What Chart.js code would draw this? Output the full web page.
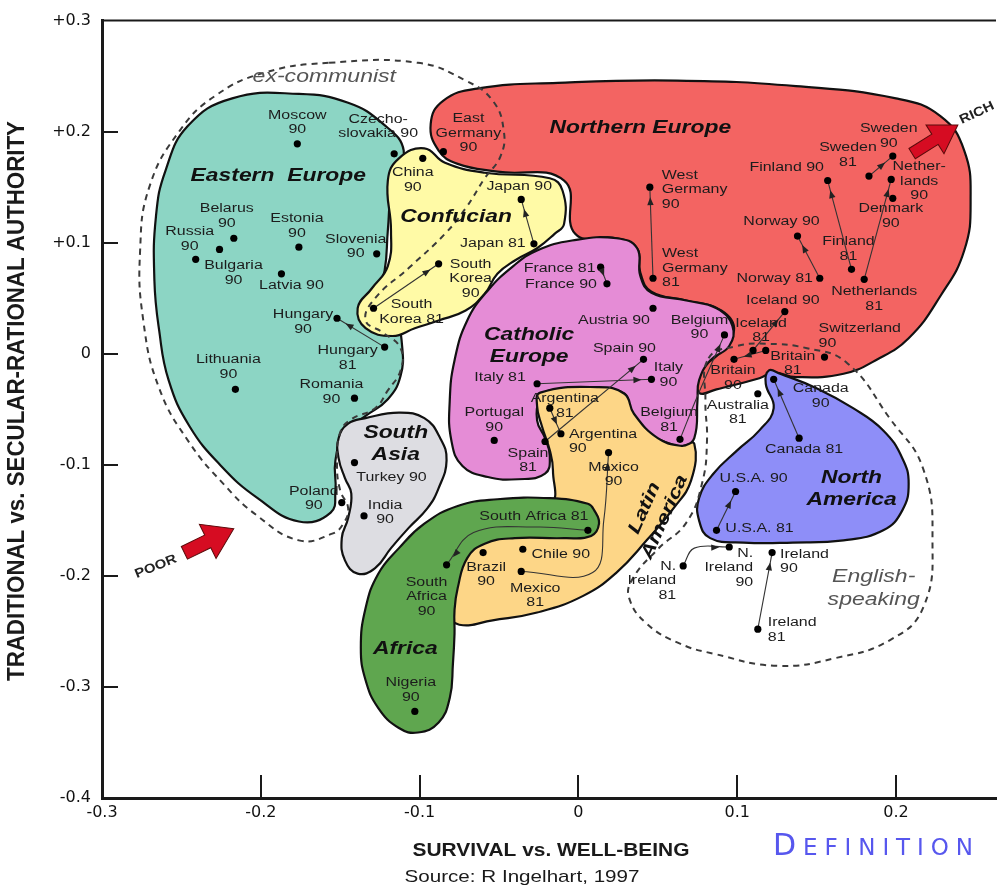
<!DOCTYPE html>
<html>
<head>
<meta charset="utf-8">
<script src="https://cdn.jsdelivr.net/npm/chart.js@4.4.1/dist/chart.umd.min.js"></script>
<style>
  html, body { margin: 0; padding: 0; background: #fff; }
  canvas { display: block; }
</style>
</head>
<body>
<canvas id="chart" width="1000" height="888"></canvas>
<script>
// ---- values ----
const countries = ['Moscow','Czechoslovakia','Belarus','Estonia','Russia','Bulgaria','Latvia','Slovenia','Hungary','Hungary','Romania','Lithuania','Poland',
  'China','Japan','Japan','South Korea','South Korea',
  'East Germany','West Germany','West Germany','Finland','Sweden','Sweden','Netherlands','Denmark','Norway','Norway','Finland','Netherlands','Iceland','Iceland','Switzerland','Britain','Britain',
  'Australia','Canada','Canada','U.S.A.','U.S.A.','N. Ireland','N. Ireland','Ireland','Ireland',
  'France','France','Austria','Belgium','Spain','Italy','Italy','Portugal','Spain','Belgium',
  'Argentina','Argentina','Mexico','Brazil','Chile','Mexico',
  'South Africa','South Africa','Nigeria','Turkey','India'];
const years = [90,90,90,90,90,90,90,90,90,81,90,90,90,
  90,90,81,90,81,
  90,90,81,90,90,81,90,90,90,81,81,81,90,81,90,90,81,
  81,90,81,90,81,90,81,90,81,
  81,90,90,90,90,90,81,90,81,81,
  81,90,90,90,90,81,
  81,90,90,90,90];
const survival = [-0.177,-0.116,-0.217,-0.176,-0.241,-0.226,-0.187,-0.127,-0.152,-0.122,-0.141,-0.216,-0.149,
  -0.098,-0.036,-0.028,-0.088,-0.129,
  -0.085,0.045,0.047,0.157,0.198,0.183,0.197,0.198,0.138,0.152,0.172,0.180,0.130,0.110,0.155,0.098,0.118,
  0.113,0.123,0.139,0.099,0.087,0.095,0.066,0.122,0.113,
  0.014,0.018,0.047,0.092,0.041,0.046,-0.026,-0.053,-0.021,0.064,
  -0.018,-0.011,0.019,-0.060,-0.035,-0.036,
  0.006,-0.083,-0.103,-0.141,-0.135];
const traditional = [0.189,0.180,0.104,0.096,0.085,0.094,0.072,0.090,0.032,0.006,-0.040,-0.032,-0.134,
  0.176,0.139,0.099,0.081,0.041,
  0.182,0.150,0.068,0.156,0.178,0.160,0.157,0.140,0.106,0.068,0.076,0.067,0.038,0.003,-0.003,-0.005,0.003,
  -0.036,-0.023,-0.076,-0.124,-0.159,-0.174,-0.191,-0.179,-0.248,
  0.078,0.063,0.041,0.017,-0.005,-0.023,-0.027,-0.078,-0.079,-0.077,
  -0.049,-0.072,-0.089,-0.179,-0.176,-0.196,
  -0.159,-0.190,-0.322,-0.098,-0.146];
const labelText = ['Moscow|90','Czecho-|slovakia 90','Belarus|90','Estonia|90','Russia|90','Bulgaria|90','Latvia 90','Slovenia|90','Hungary|90','Hungary|81','Romania|90','Lithuania|90','Poland|90',
  'China|90','Japan 90','Japan 81','South|Korea|90','South|Korea 81',
  'East|Germany|90','West|Germany|90','West|Germany|81','Finland 90','Sweden|90','Sweden|81','Nether-|lands|90','Denmark|90','Norway 90','Norway 81','Finland|81','Netherlands|81','Iceland 90','Iceland|81','Switzerland|90','Britain|90','Britain|81',
  'Australia|81','Canada|90','Canada 81','U.S.A. 90','U.S.A. 81','N.|Ireland|90','N.|Ireland|81','Ireland|90','Ireland|81',
  'France 81','France 90','Austria 90','Belgium|90','Spain 90','Italy|90','Italy 81','Portugal|90','Spain|81','Belgium|81',
  'Argentina|81','Argentina|90','Mexico|90','Brazil|90','Chile 90','Mexico|81',
  'South Africa 81','South|Africa|90','Nigeria|90','Turkey 90','India|90'];

// 1981 -> 1990 moves (optional bend points)
const moves = [
  ['Hungary 81','Hungary 90'], ['South Korea 81','South Korea 90'], ['Japan 81','Japan 90'],
  ['West Germany 81','West Germany 90'], ['Finland 81','Finland 90'], ['Norway 81','Norway 90'],
  ['Sweden 81','Sweden 90'], ['Netherlands 81','Netherlands 90'], ['Iceland 81','Iceland 90'],
  ['Britain 81','Britain 90'], ['France 81','France 90'], ['Italy 81','Italy 90'], ['Spain 81','Spain 90'],
  ['Belgium 81','Belgium 90', [[0.075,-0.038]]], ['Argentina 81','Argentina 90'],
  ['Mexico 81','Mexico 90', [[0.009,-0.197],[0.016,-0.150]]],
  ['South Africa 81','South Africa 90', [[-0.026,-0.156],[-0.066,-0.161]]],
  ['Canada 81','Canada 90'], ['U.S.A. 81','U.S.A. 90'], ['Ireland 81','Ireland 90'],
  ['N. Ireland 81','N. Ireland 90', [[0.073,-0.175]]]
];

// cultural zones, outlines in axis units
const easternEurope = [[-0.218,0.230],[-0.176,0.234],[-0.145,0.226],[-0.123,0.207],[-0.110,0.183],[-0.117,0.156],[-0.120,0.111],[-0.122,0.075],[-0.127,0.052],[-0.115,0.030],[-0.111,0.007],[-0.112,-0.020],[-0.120,-0.041],[-0.134,-0.056],[-0.147,-0.071],[-0.153,-0.096],[-0.153,-0.123],[-0.156,-0.143],[-0.176,-0.151],[-0.202,-0.130],[-0.225,-0.101],[-0.245,-0.065],[-0.258,-0.024],[-0.264,0.021],[-0.267,0.066],[-0.266,0.124],[-0.260,0.165],[-0.246,0.205]];
const northernEurope = [[-0.088,0.183],[-0.093,0.207],[-0.085,0.228],[-0.063,0.239],[-0.013,0.244],[0.062,0.246],[0.137,0.241],[0.200,0.230],[0.228,0.214],[0.243,0.183],[0.247,0.138],[0.243,0.093],[0.228,0.052],[0.208,0.014],[0.187,-0.006],[0.167,-0.018],[0.137,-0.021],[0.123,-0.017],[0.114,-0.022],[0.087,-0.032],[0.076,-0.035],[0.076,-0.015],[0.087,-0.002],[0.098,0.021],[0.090,0.039],[0.068,0.048],[0.046,0.056],[0.039,0.073],[0.037,0.095],[0.024,0.104],[-0.002,0.108],[-0.009,0.156],[-0.051,0.164],[-0.076,0.171]];
const confucian = [[-0.097,0.185],[-0.084,0.172],[-0.059,0.163],[-0.018,0.158],[-0.010,0.147],[-0.009,0.117],[-0.015,0.108],[-0.026,0.095],[-0.040,0.084],[-0.051,0.072],[-0.059,0.054],[-0.071,0.039],[-0.088,0.030],[-0.103,0.023],[-0.117,0.016],[-0.134,0.023],[-0.139,0.041],[-0.130,0.059],[-0.120,0.079],[-0.118,0.111],[-0.120,0.156],[-0.113,0.176]];
const catholicEurope = [[-0.004,0.102],[0.024,0.104],[0.037,0.095],[0.039,0.070],[0.046,0.055],[0.068,0.048],[0.087,0.041],[0.097,0.025],[0.095,0.007],[0.083,-0.006],[0.076,-0.024],[0.075,-0.042],[0.073,-0.076],[0.066,-0.083],[0.054,-0.079],[0.041,-0.069],[0.033,-0.050],[0.029,-0.036],[0.016,-0.032],[-0.018,-0.033],[-0.024,-0.040],[-0.026,-0.060],[-0.021,-0.076],[-0.018,-0.092],[-0.021,-0.108],[-0.038,-0.113],[-0.057,-0.111],[-0.073,-0.101],[-0.080,-0.078],[-0.081,-0.042],[-0.078,-0.006],[-0.070,0.030],[-0.057,0.057],[-0.041,0.079],[-0.026,0.093]];
const latinAmerica = [[-0.024,-0.035],[0.012,-0.030],[0.029,-0.036],[0.035,-0.054],[0.050,-0.076],[0.065,-0.083],[0.073,-0.081],[0.071,-0.114],[0.060,-0.139],[0.043,-0.168],[0.024,-0.197],[0.003,-0.218],[-0.026,-0.233],[-0.054,-0.240],[-0.075,-0.244],[-0.082,-0.233],[-0.081,-0.204],[-0.073,-0.176],[-0.057,-0.157],[-0.018,-0.137],[-0.016,-0.105],[-0.018,-0.087],[-0.023,-0.065],[-0.026,-0.047]];
const africa = [[-0.018,-0.130],[-0.051,-0.131],[-0.076,-0.137],[-0.097,-0.153],[-0.113,-0.175],[-0.126,-0.198],[-0.134,-0.229],[-0.137,-0.265],[-0.134,-0.294],[-0.126,-0.319],[-0.113,-0.337],[-0.101,-0.341],[-0.088,-0.332],[-0.081,-0.310],[-0.079,-0.279],[-0.078,-0.252],[-0.078,-0.231],[-0.076,-0.211],[-0.070,-0.184],[-0.059,-0.171],[-0.040,-0.166],[-0.009,-0.166],[0.008,-0.164],[0.013,-0.153],[0.010,-0.141],[0.006,-0.135]];
const southAsia = [[-0.134,-0.058],[-0.113,-0.053],[-0.097,-0.058],[-0.087,-0.076],[-0.083,-0.096],[-0.088,-0.121],[-0.095,-0.139],[-0.107,-0.157],[-0.118,-0.175],[-0.128,-0.193],[-0.139,-0.198],[-0.147,-0.186],[-0.149,-0.166],[-0.145,-0.148],[-0.143,-0.126],[-0.147,-0.112],[-0.151,-0.094],[-0.151,-0.076],[-0.145,-0.063]];
const northAmerica = [[0.120,-0.015],[0.127,-0.018],[0.150,-0.031],[0.173,-0.049],[0.192,-0.069],[0.204,-0.094],[0.208,-0.117],[0.204,-0.141],[0.192,-0.159],[0.167,-0.168],[0.135,-0.170],[0.104,-0.170],[0.083,-0.166],[0.076,-0.150],[0.076,-0.130],[0.085,-0.108],[0.100,-0.087],[0.114,-0.069],[0.123,-0.049],[0.118,-0.027]];
const exCommunist = [[-0.157,0.262],[-0.101,0.262],[-0.071,0.246],[-0.054,0.228],[-0.047,0.201],[-0.049,0.178],[-0.059,0.158],[-0.071,0.131],[-0.084,0.108],[-0.107,0.077],[-0.128,0.050],[-0.134,0.030],[-0.123,0.019],[-0.112,0.005],[-0.112,-0.015],[-0.120,-0.033],[-0.128,-0.049],[-0.143,-0.059],[-0.150,-0.071],[-0.152,-0.099],[-0.150,-0.123],[-0.145,-0.139],[-0.148,-0.153],[-0.155,-0.162],[-0.176,-0.168],[-0.203,-0.145],[-0.223,-0.118],[-0.245,-0.080],[-0.264,-0.031],[-0.274,0.030],[-0.276,0.093],[-0.270,0.151],[-0.251,0.201],[-0.229,0.232],[-0.198,0.253]];
const englishSpeaking = [[0.082,-0.004],[0.100,0.007],[0.118,0.009],[0.144,0.005],[0.169,-0.008],[0.196,-0.058],[0.217,-0.103],[0.223,-0.168],[0.217,-0.229],[0.196,-0.258],[0.162,-0.274],[0.125,-0.281],[0.085,-0.270],[0.064,-0.261],[0.043,-0.243],[0.032,-0.220],[0.034,-0.203],[0.050,-0.176],[0.068,-0.152],[0.078,-0.116],[0.081,-0.078],[0.080,-0.042]];

const zoneNames = ['Eastern  Europe','Northern Europe','Confucian','Catholic|Europe','Latin|America','Africa','South|Asia','North|America'];
const zoneShapes = [easternEurope, northernEurope, confucian, catholicEurope, latinAmerica, africa, southAsia, northAmerica];
const zoneLabelX = [-0.189, 0.039, -0.077, -0.031, 0.048, -0.109, -0.115, 0.172];
const zoneLabelY = [0.160, 0.203, 0.123, 0.007, -0.143, -0.266, -0.081, -0.122];
const groupNames = ['ex-communist', 'English-|speaking'];
const groupShapes = [exCommunist, englishSpeaking];
const groupLabelX = [-0.160, 0.186];
const groupLabelY = [0.249, -0.211];

const xTicks = [-0.3, -0.2, -0.1, 0, 0.1, 0.2];
const xTickLabels = ['-0.3', '-0.2', '-0.1', '0', '0.1', '0.2'];
const yTicks = [-0.4, -0.3, -0.2, -0.1, 0, 0.1, 0.2, 0.3];
const yTickLabels = ['-0.4', '-0.3', '-0.2', '-0.1', '0', '+0.1', '+0.2', '+0.3'];

// ---- styling ----
const zoneColors = ['#8cd5c4', '#f36462', '#fffaa6', '#e58cd6', '#fdd687', '#5fa64f', '#dddde2', '#8e8ef8'];
// label placement: offset from the dot in px, alignment
const labelPos = [[0,-21,'c'],[-16,-27,'c'],[-7,-22,'c'],[-2,-21,'c'],[-6,-20,'c'],[14,24,'c'],[10,12,'c'],[-21,-7,'c'],[-34,4,'c'],[-37,11,'c'],[-23,-6,'c'],[-7,-22,'c'],[-28,-4,'c'],
  [-10,22,'c'],[-2,-13,'c'],[-41,0,'c'],[32,15,'c'],[38,4,'c'],
  [25,-18,'c'],[12,3,'l'],[9,-10,'l'],[-41,-13,'c'],[-4,-20,'c'],[-21,-21,'c'],[28,2,'c'],[-2,18,'c'],[-16,-14,'c'],[-45,0,'c'],[-3,-20,'c'],[10,20,'c'],[-2,-11,'c'],[8,-20,'c'],[-6,-21,'l'],[-1,19,'c'],[27,13,'c'],
  [-20,19,'c'],[47,17,'c'],[5,12,'c'],[18,-13,'c'],[43,-2,'c'],[24,21,'r'],[-7,15,'r'],[8,9,'l'],[10,1,'l'],
  [-41,2,'c'],[-46,1,'c'],[-39,12,'c'],[-25,-7,'c'],[-19,-11,'c'],[17,-4,'c'],[-37,-6,'c'],[0,-20,'c'],[-17,19,'c'],[-11,-19,'c'],
  [15,-2,'c'],[8,8,'l'],[5,22,'c'],[3,22,'c'],[38,5,'c'],[14,24,'c'],
  [-54,-14,'c'],[-20,32,'c'],[-4,-21,'c'],[37,15,'c'],[21,-3,'c']];

const keyOf = i => countries[i] + ' ' + years[i];
const idx = key => countries.findIndex((c, i) => keyOf(i) === key);
const pt = i => ({x: survival[i], y: traditional[i]});
const SANS = '"Liberation Sans", Arial, sans-serif';

const datasets = [];
zoneShapes.forEach((shape, k) => {
  datasets.push({
    type: 'line', closed: true, order: 30 - k,
    data: shape.map(p => ({x: p[0], y: p[1]})),
    fill: 'shape', backgroundColor: zoneColors[k],
    borderColor: '#111', borderWidth: 2.2, tension: 0.45, pointRadius: 0
  });
});
groupShapes.forEach(shape => {
  datasets.push({
    type: 'line', closed: true, order: 10,
    data: shape.map(p => ({x: p[0], y: p[1]})),
    fill: false, borderColor: '#3a3a3a', borderWidth: 2, borderDash: [6, 5],
    tension: 0.45, pointRadius: 0
  });
});
moves.forEach(m => {
  const a = idx(m[0]), b = idx(m[1]);
  const via = (m[2] || []).map(p => ({x: p[0], y: p[1]}));
  datasets.push({
    type: 'line', order: 5,
    data: [pt(a), ...via, pt(b)],
    fill: false, borderColor: '#333', borderWidth: 1.1,
    tension: via.length ? 0.4 : 0, pointRadius: 0
  });
});
datasets.push({
  type: 'scatter', order: 0,
  data: survival.map((x, i) => pt(i)),
  pointRadius: 3.6, pointBackgroundColor: '#000', pointBorderWidth: 0
});

function textBlock(ctx, text, x, y, o) {
  const lines = text.split('|');
  const lh = o.lh || 14;
  ctx.save();
  ctx.translate(x, y);
  if (o.rot) ctx.rotate(o.rot);
  ctx.font = o.font;
  ctx.fillStyle = o.color || '#222';
  ctx.textBaseline = 'middle';
  ctx.textAlign = o.align === 'l' ? 'left' : o.align === 'r' ? 'right' : 'center';
  lines.forEach((s, k) => {
    ctx.save();
    ctx.translate(0, (k - (lines.length - 1) / 2) * lh);
    ctx.scale(o.sx || 1, 1);
    ctx.fillText(s, 0, 0);
    ctx.restore();
  });
  ctx.restore();
}

function fitText(ctx, s, x, y, font, width, sy) {
  ctx.font = font;
  const w = ctx.measureText(s).width;
  ctx.save();
  ctx.translate(x, y);
  ctx.scale(width / w, sy || 1);
  ctx.textAlign = 'center';
  ctx.textBaseline = 'middle';
  ctx.fillText(s, 0, 0);
  ctx.restore();
}

function bigArrow(ctx, x, y, ang, L, hl, hw, sw) {
  ctx.save();
  ctx.translate(x, y);
  ctx.rotate(ang);
  ctx.beginPath();
  ctx.moveTo(0, 0);
  ctx.lineTo(-hl, -hw); ctx.lineTo(-hl, -sw); ctx.lineTo(-L, -sw);
  ctx.lineTo(-L, sw); ctx.lineTo(-hl, sw); ctx.lineTo(-hl, hw);
  ctx.closePath();
  ctx.fillStyle = '#d60c22';
  ctx.fill();
  ctx.strokeStyle = '#5a0a0a';
  ctx.lineWidth = 1;
  ctx.stroke();
  ctx.restore();
}

const overlay = {
  id: 'overlay',
  afterDatasetUpdate(chart, args) {
    const ds = chart.data.datasets[args.index];
    if (ds.closed && args.meta.dataset) {
      args.meta.dataset._loop = true;
      args.meta.dataset._fullLoop = true;
    }
  },
  beforeDatasetsDraw(chart) {
    const {ctx, chartArea: a, scales: {x, y}} = chart;
    ctx.save();
    ctx.strokeStyle = '#1a1a1a';
    ctx.lineWidth = 2;
    ctx.beginPath();
    ctx.moveTo(a.left, a.top); ctx.lineTo(a.right, a.top);
    yTicks.slice(1, -1).forEach(v => {
      const py = Math.round(y.getPixelForValue(v));
      ctx.moveTo(a.left, py); ctx.lineTo(a.left + 16, py);
    });
    xTicks.slice(1).forEach(v => {
      const px = Math.round(x.getPixelForValue(v));
      ctx.moveTo(px, a.bottom); ctx.lineTo(px, a.bottom - 23);
    });
    ctx.stroke();
    ctx.restore();
  },
  afterDatasetsDraw(chart) {
    const {ctx, scales: {x, y}} = chart;
    // arrow heads on the 1981 -> 1990 moves
    ctx.save();
    ctx.fillStyle = '#222';
    moves.forEach(m => {
      const b = idx(m[1]);
      const prev = m[2] && m[2].length ? m[2][m[2].length - 1] : [survival[idx(m[0])], traditional[idx(m[0])]];
      const x0 = x.getPixelForValue(prev[0]), y0 = y.getPixelForValue(prev[1]);
      const x1 = x.getPixelForValue(survival[b]), y1 = y.getPixelForValue(traditional[b]);
      const d = Math.hypot(x1 - x0, y1 - y0) || 1;
      const ux = (x1 - x0) / d, uy = (y1 - y0) / d;
      const back = Math.min(10, d * 0.45);
      const tx = x1 - ux * back, ty = y1 - uy * back;
      ctx.beginPath();
      ctx.moveTo(tx, ty);
      ctx.lineTo(tx - ux * 8 - uy * 3.2, ty - uy * 8 + ux * 3.2);
      ctx.lineTo(tx - ux * 8 + uy * 3.2, ty - uy * 8 - ux * 3.2);
      ctx.closePath();
      ctx.fill();
    });
    ctx.restore();

    // country labels
    labelText.forEach((t, i) => {
      const p = labelPos[i];
      textBlock(ctx, t, x.getPixelForValue(survival[i]) + p[0], y.getPixelForValue(traditional[i]) + p[1],
        {font: '12px ' + SANS, color: '#1c1c1c', align: p[2], sx: 1.33, lh: 14.5});
    });

    // zone names
    zoneNames.forEach((t, k) => {
      textBlock(ctx, t, x.getPixelForValue(zoneLabelX[k]), y.getPixelForValue(zoneLabelY[k]),
        {font: 'italic bold 18px ' + SANS, color: '#111', sx: 1.27, lh: 22,
         rot: t.startsWith('Latin') ? -66 * Math.PI / 180 : 0});
    });
    groupNames.forEach((t, k) => {
      textBlock(ctx, t, x.getPixelForValue(groupLabelX[k]), y.getPixelForValue(groupLabelY[k]),
        {font: 'italic 18px ' + SANS, color: '#555', sx: 1.28, lh: 23});
    });

    // RICH / POOR arrows
    const rx = x.getPixelForValue(0.239), ry = y.getPixelForValue(0.206);
    bigArrow(ctx, rx, ry, -32 * Math.PI / 180, 54, 27, 17, 6);
    textBlock(ctx, 'RICH', rx + 19, ry - 12, {font: 'bold 13px ' + SANS, color: '#222', sx: 1.15, rot: -25 * Math.PI / 180});
    const px = x.getPixelForValue(-0.217), py = y.getPixelForValue(-0.1575);
    bigArrow(ctx, px, py, -26 * Math.PI / 180, 55, 29, 19, 7);
    textBlock(ctx, 'POOR', px - 78, py + 38, {font: 'bold 13px ' + SANS, color: '#222', sx: 1.15, rot: -22 * Math.PI / 180});
  },
  afterDraw(chart) {
    const {ctx} = chart;
    ctx.save();
    ctx.fillStyle = '#1a1a1a';
    // vertical axis title
    ctx.save();
    ctx.translate(17, 401);
    ctx.rotate(-Math.PI / 2);
    fitText(ctx, 'TRADITIONAL vs. SECULAR-RATIONAL AUTHORITY', 0, 0, 'bold 22px ' + SANS, 560, 1.1);
    ctx.restore();
    fitText(ctx, 'SURVIVAL vs. WELL-BEING', 551, 851, 'bold 19px ' + SANS, 277);
    fitText(ctx, 'Source: R Ingelhart, 1997', 522, 877, '17px ' + SANS, 235);
    // DEFINITION in small caps
    const chars = 'DEFINITION'.split('');
    const fonts = chars.map((c, i) => (i === 0 ? '30px' : '23px') + ' "DejaVu Sans", sans-serif');
    const widths = chars.map((c, i) => { ctx.font = fonts[i]; return ctx.measureText(c).width; });
    const gap = (200 - widths.reduce((s, w) => s + w, 0)) / (chars.length - 1);
    let cx = 773;
    ctx.fillStyle = '#5757ee';
    ctx.textAlign = 'left';
    ctx.textBaseline = 'alphabetic';
    chars.forEach((c, i) => {
      ctx.font = fonts[i];
      ctx.fillText(c, cx, 855);
      cx += widths[i] + gap;
    });
    ctx.restore();
  }
};

new Chart(document.getElementById('chart'), {
  type: 'scatter',
  data: {datasets},
  options: {
    responsive: false,
    animation: false,
    devicePixelRatio: 1,
    events: [],
    layout: {padding: {top: 20, right: 0, bottom: 0, left: 0}},
    plugins: {legend: {display: false}, tooltip: {enabled: false}},
    scales: {
      x: {
        type: 'linear', min: -0.3, max: 0.263,
        afterBuildTicks: s => { s.ticks = xTicks.map(v => ({value: v})); },
        afterFit: s => { s.height = 90; },
        grid: {display: false, drawTicks: false},
        border: {display: true, width: 3, color: '#1a1a1a'},
        ticks: {
          padding: 5, color: '#111',
          font: {family: '"DejaVu Sans", sans-serif', size: 16},
          callback: (v, i) => xTickLabels[i]
        }
      },
      y: {
        type: 'linear', min: -0.4, max: 0.3,
        afterBuildTicks: s => { s.ticks = yTicks.map(v => ({value: v})); },
        afterFit: s => { s.width = 102; },
        grid: {display: false, drawTicks: false},
        border: {display: true, width: 3, color: '#1a1a1a'},
        ticks: {
          padding: 11, color: '#111',
          font: {family: '"DejaVu Sans", sans-serif', size: 16},
          callback: (v, i) => yTickLabels[i]
        }
      }
    }
  },
  plugins: [overlay]
});
</script>
</body>
</html>
